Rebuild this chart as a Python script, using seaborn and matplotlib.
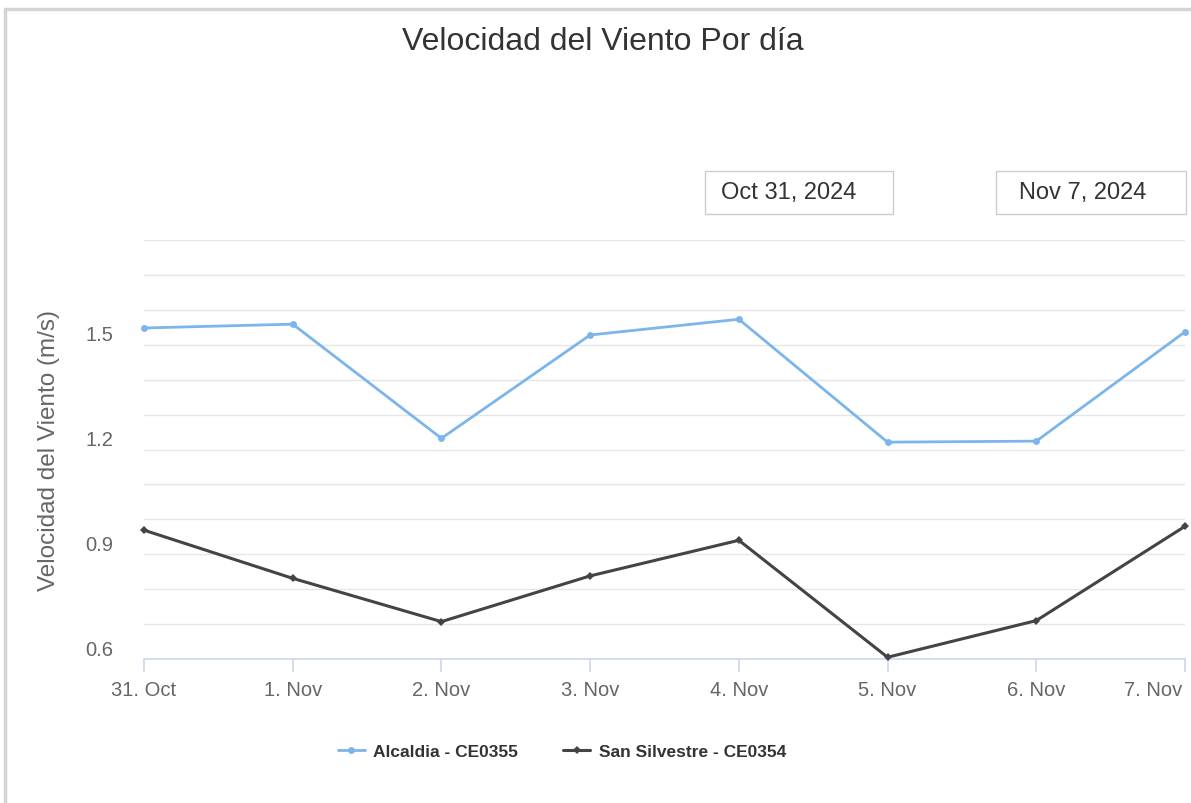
import numpy as np
import pandas as pd
import matplotlib
matplotlib.use("Agg")
import matplotlib.pyplot as plt
from matplotlib.lines import Line2D
from matplotlib.patches import Rectangle
from matplotlib.transforms import ScaledTranslation
import seaborn as sns

# ---- data ----
day_labels = ["31. Oct", "1. Nov", "2. Nov", "3. Nov", "4. Nov", "5. Nov", "6. Nov", "7. Nov"]
alcaldia = [1.548, 1.559, 1.232, 1.528, 1.573, 1.221, 1.224, 1.537]
san_silvestre = [0.969, 0.831, 0.707, 0.838, 0.940, 0.605, 0.710, 0.980]
series_names = ["Alcaldia - CE0355", "San Silvestre - CE0354"]
title_text = "Velocidad del Viento Por día"
ylabel_text = "Velocidad del Viento (m/s)"
date_from = "Oct 31, 2024"
date_to = "Nov 7, 2024"
y_major = [0.6, 0.9, 1.2, 1.5]

df = pd.DataFrame({
    "idx": list(range(len(day_labels))) * 2,
    "value": alcaldia + san_silvestre,
    "series": [series_names[0]] * len(alcaldia) + [series_names[1]] * len(san_silvestre),
})

sns.set_theme(style="white")
plt.rcParams["font.family"] = ["Liberation Sans", "DejaVu Sans"]

W, H = 1191, 804
fig = plt.figure(figsize=(W / 100, H / 100), dpi=100)
ax = fig.add_axes([144 / W, 1 - 660 / H, (1185 - 144) / W, (660 - 241) / H])

colors = {series_names[0]: "#7cb5ec", series_names[1]: "#434348"}
markers = {series_names[0]: "o", series_names[1]: "D"}
lws = {series_names[0]: 2.0, series_names[1]: 2.2}
msz = {series_names[0]: 5, series_names[1]: 4}

for name in series_names:
    sub = df[df["series"] == name]
    sns.lineplot(data=sub, x="idx", y="value", ax=ax, color=colors[name],
                 marker=markers[name], markersize=msz[name], markeredgewidth=0,
                 linewidth=lws[name], label=name, legend=False, clip_on=False, zorder=3)

ax.set_xlim(0, len(day_labels) - 1)
ax.set_ylim(0.6, 1.8)
ax.set_xticks(range(len(day_labels)))
ax.set_xticklabels(day_labels)
ax.set_yticks(y_major)
ax.set_yticklabels([f"{v:.1f}" for v in y_major])
ax.set_yticks(np.round(np.arange(0.6, 1.81, 0.1), 2), minor=True)
ax.grid(True, which="both", axis="y", color="#e6e6e6", linewidth=1.0)
ax.grid(False, axis="x")
ax.set_axisbelow(True)

for s in ["top", "right", "left"]:
    ax.spines[s].set_visible(False)
ax.spines["bottom"].set_color("#ccd6eb")
ax.spines["bottom"].set_linewidth(1.2)

ax.tick_params(axis="x", which="major", length=9, width=1.2, color="#ccd6eb",
               labelsize=14.5, labelcolor="#666666", pad=6, bottom=True)
ax.tick_params(axis="y", which="both", length=0, labelsize=14.5, labelcolor="#666666", pad=22)
for lab in ax.get_yticklabels():
    lab.set_transform(lab.get_transform() + ScaledTranslation(0, 12 / 100, fig.dpi_scale_trans))
last = ax.get_xticklabels()[-1]
last.set_horizontalalignment("right")
last.set_transform(last.get_transform() + ScaledTranslation(-3 / 100, 0, fig.dpi_scale_trans))

ax.set_xlabel("")
ax.set_ylabel(ylabel_text, fontsize=17.5, color="#666666")
ax.yaxis.set_label_coords((60 - 144) / (1185 - 144), 0.5)

# title
fig.text(603 / W, 1 - 42 / H, title_text, ha="center", va="center", fontsize=23, color="#333333")

# date boxes
for (x0, x1, tx, txt) in [(705, 893, 721, date_from), (996, 1186, 1019, date_to)]:
    fig.patches.append(Rectangle((x0 / W, 1 - 215 / H), (x1 - x0) / W, 43 / H,
                                 transform=fig.transFigure, fill=False,
                                 edgecolor="#cccccc", linewidth=1.0))
    fig.text(tx / W, 1 - 193 / H, txt, ha="left", va="center", fontsize=17, color="#333333")

# chart border (top & left)
fig.add_artist(Line2D([5 / W, 1], [1 - 10 / H, 1 - 10 / H], transform=fig.transFigure,
                      color="#d4d4d4", linewidth=2.5))
fig.add_artist(Line2D([5 / W, 5 / W], [0, 1 - 10 / H], transform=fig.transFigure,
                      color="#d4d4d4", linewidth=2.5))

# legend
handles, labels = ax.get_legend_handles_labels()
leg = fig.legend(handles, labels, loc="center", bbox_to_anchor=(562 / W, 1 - 752 / H),
                 ncol=2, frameon=False, handlelength=1.55, handletextpad=0.5,
                 columnspacing=2.6, prop={"size": 12.5, "weight": "bold"})
for t in leg.get_texts():
    t.set_color("#333333")

fig.savefig("out.png", dpi=100, facecolor="white")
